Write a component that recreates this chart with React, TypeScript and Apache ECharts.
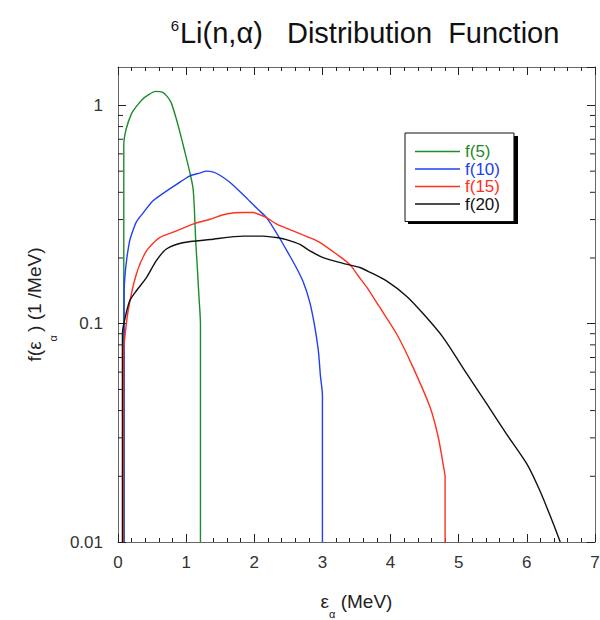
import React, { useEffect, useRef } from "react";
import * as echarts from "echarts";

const xTicks = [0, 1, 2, 3, 4, 5, 6, 7];
const yTickLabels = ["0.01", "0.1", "1"];
const minorYTicks = [0.02, 0.03, 0.04, 0.05, 0.06, 0.07, 0.08, 0.09, 0.2, 0.3, 0.4, 0.5, 0.6, 0.7, 0.8, 0.9];

const seriesNames = ["f(5)", "f(10)", "f(15)", "f(20)"];
const seriesColors = ["#1f8a2a", "#2040f0", "#ff3020", "#111111"];

const f5: [number, number][] = [
  [0.085, 0.01], [0.085, 0.66], [0.12, 0.78], [0.2, 0.92], [0.27, 0.99], [0.35, 1.06],
  [0.45, 1.12], [0.55, 1.16], [0.65, 1.15], [0.72, 1.1], [0.78, 1.03], [0.85, 0.88],
  [0.93, 0.71], [1.0, 0.58], [1.05, 0.5], [1.1, 0.42], [1.12, 0.34], [1.14, 0.24],
  [1.16, 0.19], [1.19, 0.13], [1.21, 0.1], [1.21, 0.01],
];
const f10: [number, number][] = [
  [0.09, 0.01], [0.09, 0.14], [0.1, 0.163], [0.13, 0.2], [0.17, 0.239], [0.2, 0.257],
  [0.27, 0.293], [0.37, 0.322], [0.51, 0.365], [0.71, 0.405], [0.86, 0.435], [1.05, 0.475],
  [1.2, 0.49], [1.3, 0.5], [1.4, 0.495], [1.49, 0.48], [1.64, 0.445], [1.8, 0.4],
  [1.93, 0.365], [2.05, 0.335], [2.18, 0.306], [2.37, 0.247], [2.5, 0.21], [2.62, 0.18],
  [2.72, 0.155], [2.81, 0.127], [2.88, 0.1], [2.94, 0.0753], [2.97, 0.058], [3.0, 0.047],
  [3.0, 0.01],
];
const f15: [number, number][] = [
  [0.075, 0.01], [0.08, 0.07], [0.085, 0.078], [0.15, 0.115], [0.27, 0.169], [0.42, 0.216],
  [0.61, 0.248], [0.86, 0.266], [1.1, 0.286], [1.35, 0.301], [1.59, 0.318], [1.84, 0.323],
  [1.98, 0.323], [2.18, 0.306], [2.33, 0.286], [2.57, 0.266], [2.81, 0.248], [2.96, 0.236],
  [3.21, 0.208], [3.4, 0.187], [3.53, 0.165], [3.65, 0.147], [3.84, 0.119], [4.09, 0.0897],
  [4.33, 0.0631], [4.58, 0.0414], [4.7, 0.0302], [4.77, 0.0228], [4.8, 0.0198], [4.8, 0.01],
];
const f20: [number, number][] = [
  [0.065, 0.01], [0.065, 0.09], [0.085, 0.1], [0.17, 0.127], [0.27, 0.1416], [0.42, 0.163],
  [0.56, 0.194], [0.71, 0.22], [0.95, 0.235], [1.35, 0.243], [1.84, 0.252], [2.13, 0.252],
  [2.37, 0.247], [2.47, 0.243], [2.67, 0.231], [2.81, 0.216], [3.01, 0.201], [3.35, 0.1875],
  [3.55, 0.181], [3.7, 0.172], [3.94, 0.157], [4.23, 0.134], [4.48, 0.111], [4.77, 0.0866],
  [5.12, 0.0589], [5.41, 0.043], [5.7, 0.0313], [6.0, 0.0228], [6.19, 0.0172], [6.39, 0.0121],
  [6.49, 0.01],
];
const seriesData = [f5, f10, f15, f20];

const FONT = "Liberation Sans, Arial, sans-serif";
const AXIS_COLOR = "#666";
const TICK_COLOR = "#222";

export default function App() {
  const ref = useRef<HTMLDivElement>(null);
  useEffect(() => {
    document.body.style.margin = "0";
    if (!ref.current) return;
    const chart = echarts.init(ref.current, null, { renderer: "svg" });
    const xNameRich = {
      n: { fontSize: 19, fontFamily: FONT, color: "#222" },
      sub: { fontSize: 11, fontFamily: FONT, color: "#222", padding: [24, 0, 0, 0] },
    };
    const yNameRich = {
      n: { fontSize: 19, fontFamily: FONT, color: "#222" },
      sub: { fontSize: 11, fontFamily: FONT, color: "#222", padding: [36, 0, 0, 0] },
    };
    const xAxisBase = {
      type: "value",
      min: 0,
      max: 7,
      interval: 1,
      axisLine: { show: true, onZero: false, lineStyle: { color: AXIS_COLOR, width: 1 } },
      axisTick: { show: true, inside: true, length: 8, lineStyle: { color: TICK_COLOR } },
      minorTick: { show: true, splitNumber: 5, length: 4, lineStyle: { color: TICK_COLOR } },
      splitLine: { show: false },
      minorSplitLine: { show: false },
    };
    const yAxisBase = {
      type: "log",
      logBase: 10,
      min: 0.01,
      max: 1.5,
      axisLine: { show: true, onZero: false, lineStyle: { color: AXIS_COLOR, width: 1 } },
      axisTick: { show: true, inside: true, length: 8, lineStyle: { color: TICK_COLOR } },
      splitLine: { show: false },
    };
    const option = {
      animation: false,
      backgroundColor: "#fff",
      title: {
        text: "{sup|6}{main|Li(n,α)   Distribution  Function}",
        left: 360,
        top: 13,
        textAlign: "center",
        textStyle: {
          fontWeight: "normal",
          rich: {
            sup: { fontSize: 15, fontWeight: "normal", fontFamily: FONT, color: "#111", verticalAlign: "top", padding: [0, 1, 14, 0] },
            main: { fontSize: 29, fontWeight: "normal", fontFamily: FONT, color: "#111" },
          },
        },
      },
      grid: { left: 118, right: 5, top: 67, bottom: 78, containLabel: false, outerBoundsMode: "none" },
      legend: {
        data: seriesNames.map((n, i) => ({ name: n, textStyle: { color: seriesColors[i] } })),
        orient: "vertical",
        left: 405,
        top: 133,
        width: 110,
        icon: "path://M0,0H45V1.4H0Z",
        itemWidth: 45,
        itemHeight: 14,
        itemGap: 0.5,
        padding: [10, 14, 9, 10],
        backgroundColor: "#fff",
        borderColor: "#111",
        borderWidth: 1,
        z: 10,
        textStyle: { fontSize: 17, lineHeight: 17, fontFamily: FONT },
      },
      graphic: [
        {
          type: "rect",
          left: 408,
          top: 136,
          z: 5,
          shape: { width: 110, height: 88 },
          style: { fill: "#000" },
        },
      ],
      xAxis: [
        {
          ...xAxisBase,
          position: "bottom",
          name: "{n|ε}{sub|α}{n| (MeV)}",
          nameLocation: "middle",
          nameGap: 42,
          nameTextStyle: { rich: xNameRich },
          axisLabel: { show: true, margin: 12, fontSize: 17, fontFamily: FONT, color: "#333" },
        },
        {
          ...xAxisBase,
          position: "top",
          axisLabel: { show: false },
        },
      ],
      yAxis: [
        {
          ...yAxisBase,
          position: "left",
          name: "{n|f(ε}{sub|α }{n|) (1 /MeV)}",
          nameLocation: "middle",
          nameGap: 60,
          nameTextStyle: { rich: yNameRich },
          axisLabel: {
            show: true,
            margin: 15,
            fontSize: 17,
            fontFamily: FONT,
            color: "#333",
            showMaxLabel: false,
            formatter: (v: number) => {
              const s = Number(v.toPrecision(3)).toString();
              return yTickLabels.indexOf(s) >= 0 ? s : "";
            },
          },
        },
        {
          ...yAxisBase,
          position: "right",
          axisLabel: { show: false },
        },
      ],
      series: [
        ...seriesData.map((d, i) => ({
          name: seriesNames[i],
          type: "line",
          data: d,
          xAxisIndex: 0,
          yAxisIndex: 0,
          showSymbol: false,
          symbol: "none",
          smooth: 0.25,
          lineStyle: { color: seriesColors[i], width: 1.4 },
          itemStyle: { color: seriesColors[i] },
          z: 3,
        })),
        {
          name: "minorTicks",
          type: "custom",
          xAxisIndex: 0,
          yAxisIndex: 0,
          silent: true,
          clip: false,
          data: minorYTicks.map((v) => [xTicks[0], v]),
          renderItem: (_params: any, api: any) => {
            const v = api.value(1);
            const l = api.coord([xTicks[0], v]);
            const r = api.coord([xTicks[xTicks.length - 1], v]);
            return {
              type: "group",
              children: [
                { type: "line", shape: { x1: l[0], y1: l[1], x2: l[0] + 5, y2: l[1] }, style: { stroke: TICK_COLOR, lineWidth: 1 } },
                { type: "line", shape: { x1: r[0] - 5, y1: r[1], x2: r[0], y2: r[1] }, style: { stroke: TICK_COLOR, lineWidth: 1 } },
              ],
            };
          },
          z: 4,
        },
      ],
    };
    chart.setOption(option as any);
    return () => chart.dispose();
  }, []);
  return <div ref={ref} style={{ width: 600, height: 620 }} />;
}
